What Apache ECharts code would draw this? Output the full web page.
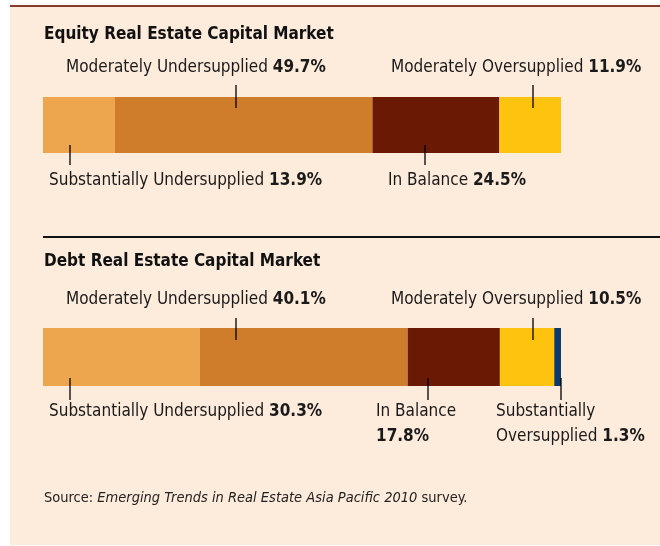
<!DOCTYPE html>
<html>
<head>
<meta charset="utf-8">
<script src="https://cdn.jsdelivr.net/npm/echarts@6/dist/echarts.min.js"></script>
<style>
  html, body { margin: 0; padding: 0; background: #fff; }
  #el { width: 660px; height: 546px; }
</style>
</head>
<body>
<div id="el"></div>
<script>
// segment data, left to right
const equityNames = ['Substantially Undersupplied', 'Moderately Undersupplied', 'In Balance', 'Moderately Oversupplied'];
const equityValues = [13.9, 49.7, 24.5, 11.9];
const debtNames = ['Substantially Undersupplied', 'Moderately Undersupplied', 'In Balance', 'Moderately Oversupplied', 'Substantially Oversupplied'];
const debtValues = [30.3, 40.1, 17.8, 10.5, 1.3];
const segColors = ['#eda54e', '#cf7c2b', '#6a1a04', '#fec30e', '#0c3a6b'];
const titles = ['Equity Real Estate Capital Market', 'Debt Real Estate Capital Market'];

const FONT = '"DejaVu Sans Condensed", "Liberation Sans", sans-serif';
const FS = 17;

let chart = echarts.init(document.getElementById('el'));

function buildSeries(names, values, idx) {
    return names.map((n, i) => ({
        name: n,
        type: 'bar',
        stack: 's' + idx,
        xAxisIndex: idx,
        yAxisIndex: idx,
        barWidth: '100%',
        silent: true,
        itemStyle: { color: segColors[i] },
        data: [values[i]]
    }));
}

function label(x, y, text) {
    return {
        type: 'text',
        x: x,
        y: y,
        style: {
            text: text,
            fill: '#1a1a1a',
            font: FS + 'px ' + FONT,
            verticalAlign: 'middle',
            lineHeight: 25,
            rich: {
                b: { fontWeight: 'bold', fontSize: FS, fontFamily: FONT, fill: '#1a1a1a', lineHeight: 25 },
                n: { fontSize: FS, fontFamily: FONT, fill: '#1a1a1a', lineHeight: 25 }
            }
        }
    };
}

function tick(x, y1, y2) {
    return { type: 'line', z: 100, shape: { x1: x, y1: y1, x2: x, y2: y2 }, style: { stroke: '#000', lineWidth: 1.3 } };
}

function lbl(names, values, i) {
    return '{n|' + names[i] + ' }{b|' + values[i] + '%}';
}

let option = {
    animation: false,
    backgroundColor: '#fff',
    grid: [
        { left: 43, width: 518, top: 97, height: 56 },
        { left: 43, width: 518, top: 328, height: 58 }
    ],
    xAxis: [0, 1].map(i => ({ gridIndex: i, type: 'value', min: 0, max: 100, show: false })),
    yAxis: [0, 1].map(i => ({ gridIndex: i, type: 'category', data: [''], show: false })),
    series: buildSeries(equityNames, equityValues, 0).concat(buildSeries(debtNames, debtValues, 1)),
    graphic: [
        { type: 'rect', z: -10, shape: { x: 10, y: 6, width: 650, height: 539 }, style: { fill: '#fdebdc' } },
        { type: 'line', shape: { x1: 10, y1: 6, x2: 660, y2: 6 }, style: { stroke: '#8b3b2c', lineWidth: 2 } },
        { type: 'line', shape: { x1: 43, y1: 237, x2: 660, y2: 237 }, style: { stroke: '#111', lineWidth: 2 } },

        { type: 'text', x: 44, y: 35, style: { text: titles[0], font: 'bold ' + FS + 'px ' + FONT, fill: '#111', verticalAlign: 'middle' } },
        label(66, 68, lbl(equityNames, equityValues, 1)),
        label(391, 68, lbl(equityNames, equityValues, 3)),
        label(49, 181, lbl(equityNames, equityValues, 0)),
        label(388, 181, lbl(equityNames, equityValues, 2)),
        tick(236, 85, 108), tick(533, 85, 108),
        tick(70, 145, 165), tick(425, 145, 165),

        { type: 'text', x: 44, y: 262, style: { text: titles[1], font: 'bold ' + FS + 'px ' + FONT, fill: '#111', verticalAlign: 'middle' } },
        label(66, 300, lbl(debtNames, debtValues, 1)),
        label(391, 300, lbl(debtNames, debtValues, 3)),
        label(49, 412, lbl(debtNames, debtValues, 0)),
        label(376, 424, '{n|In Balance}\n{b|' + debtValues[2] + '%}'),
        label(496, 424, '{n|Substantially}\n{n|Oversupplied }{b|' + debtValues[4] + '%}'),
        tick(236, 318, 340), tick(533, 318, 340),
        tick(70, 378, 400), tick(428, 378, 400), tick(561, 378, 400),

        {
            type: 'text', x: 44, y: 498,
            style: {
                text: '{n|Source: }{i|Emerging Trends in Real Estate Asia Pacific 2010}{n| survey.}',
                verticalAlign: 'middle',
                rich: {
                    n: { fontSize: 14.5, fontFamily: FONT, fill: '#222' },
                    i: { fontSize: 14.5, fontFamily: FONT, fontStyle: 'italic', fill: '#222' }
                }
            }
        }
    ]
};

chart.setOption(option);
</script>
</body>
</html>
